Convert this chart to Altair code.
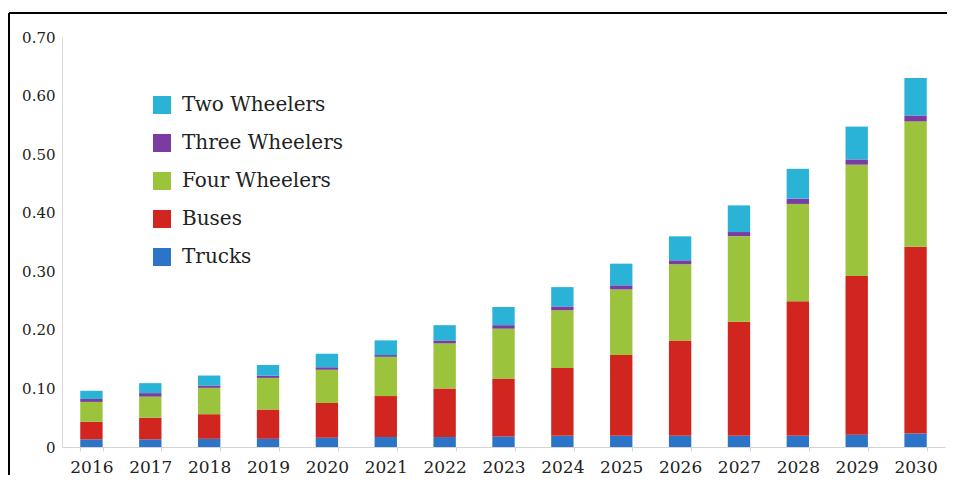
import altair as alt
import pandas as pd

years = [str(y) for y in range(2016, 2031)]
trucks = [0.013, 0.013, 0.014, 0.014, 0.016, 0.017, 0.017, 0.018, 0.019, 0.019, 0.019, 0.019, 0.019, 0.021, 0.023]
buses = [0.030, 0.037, 0.042, 0.050, 0.059, 0.070, 0.083, 0.099, 0.116, 0.138, 0.163, 0.195, 0.230, 0.271, 0.319]
four_wheelers = [0.034, 0.036, 0.045, 0.054, 0.057, 0.067, 0.077, 0.085, 0.0985, 0.112, 0.130, 0.146, 0.166, 0.190, 0.214]
three_wheelers = [0.005, 0.006, 0.004, 0.004, 0.004, 0.003, 0.005, 0.006, 0.0065, 0.007, 0.0067, 0.007, 0.009, 0.009, 0.010]
two_wheelers = [0.014, 0.017, 0.017, 0.018, 0.023, 0.025, 0.026, 0.031, 0.033, 0.037, 0.041, 0.0455, 0.051, 0.056, 0.064]

series_names = ["Trucks", "Buses", "Four Wheelers", "Three Wheelers", "Two Wheelers"]
series_values = [trucks, buses, four_wheelers, three_wheelers, two_wheelers]
legend_order = ["Two Wheelers", "Three Wheelers", "Four Wheelers", "Buses", "Trucks"]
legend_colors = ["#2ab3d7", "#7a3ca3", "#9bc33b", "#d0261f", "#2c74c8"]
y_ticks = [0, 0.1, 0.2, 0.3, 0.4, 0.5, 0.6, 0.7]

rows = []
for k, (name, vals) in enumerate(zip(series_names, series_values)):
    for y, v in zip(years, vals):
        rows.append({"year": y, "series": name, "value": v, "ord": k})
df = pd.DataFrame(rows)

FONT = "DejaVu Serif"

bars = alt.Chart(df).mark_bar().encode(
    x=alt.X("year:N", sort=years, title=None,
            scale=alt.Scale(paddingInner=0.62, paddingOuter=0.31),
            axis=alt.Axis(labelAngle=0, labelFont=FONT, labelFontSize=17, labelColor="#222",
                          domainColor="#d4d4d4", tickColor="#d4d4d4", tickSize=4,
                          tickBand="extent", labelPadding=8, grid=False)),
    y=alt.Y("value:Q", stack="zero", title=None,
            scale=alt.Scale(domain=[0, 0.7], nice=False),
            axis=alt.Axis(values=y_ticks, labelFont=FONT, labelFontSize=15, labelColor="#222",
                          labelExpr="datum.value == 0 ? '0' : format(datum.value, '.2f')",
                          domainColor="#d9d9d9", ticks=False, labelPadding=7, grid=False)),
    color=alt.Color("series:N",
                    scale=alt.Scale(domain=legend_order, range=legend_colors),
                    legend=alt.Legend(title=None, orient="none", legendX=90, legendY=58,
                                      symbolType="square", symbolSize=324, symbolStrokeWidth=0,
                                      symbolOpacity=1, labelLimit=0,
                                      labelFont=FONT, labelFontSize=20, labelColor="#222",
                                      labelOffset=10, rowPadding=18, padding=0)),
    order=alt.Order("ord:Q", sort="ascending"),
)

top_border = alt.Chart(df).mark_rule(color="black", strokeWidth=2).encode(
    x=alt.value(-53), x2=alt.value(893), y=alt.value(-24))
left_border = alt.Chart(df).mark_rule(color="black", strokeWidth=2).encode(
    x=alt.value(-53), y=alt.value(-24), y2=alt.value(438))

chart = alt.layer(bars, top_border, left_border).properties(
    width=883, height=410,
    autosize=alt.AutoSizeParams(type="none"),
    padding={"left": 54, "top": 29, "right": 2, "bottom": 28},
).configure_view(stroke=None)

chart.save("out.html", embed_options={"renderer": "svg", "actions": False})
